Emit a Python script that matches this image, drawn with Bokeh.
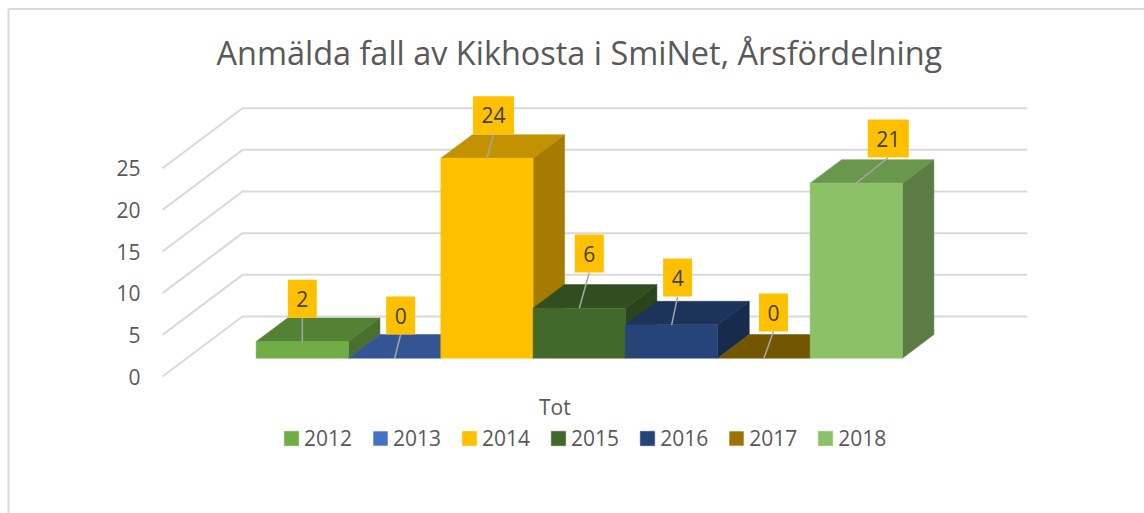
from bokeh.plotting import figure
from bokeh.models import Range1d, FixedTicker, Legend, LegendItem
from bokeh.core.properties import value
from bokeh.embed import file_html
from bokeh.resources import INLINE

title = "Anmälda fall av Kikhosta i SmiNet, Årsfördelning"
category = "Tot"
years = ["2012", "2013", "2014", "2015", "2016", "2017", "2018"]
counts = [2, 0, 24, 6, 4, 0, 21]
y_ticks = [0, 5, 10, 15, 20, 25]
front_colors = ["#70AD47", "#4472C4", "#FFC000", "#43682B", "#264478", "#9E7100", "#8CC168"]
top_colors = ["#548235", "#335593", "#C29200", "#324D20", "#1C335A", "#735600", "#69984D"]
side_colors = ["#4A702F", "#2B4A80", "#A67C00", "#2B441C", "#172B4D", "#5F4700", "#5B7C43"]

# label box offsets (screen px) from the top-front centre of each bar
label_dx = [0, 6, 6.5, 10, 6, 9.5, 32]
label_dy = [23.7, 23.7, 24, 35.7, 28.3, 26.7, 25.7]

# geometry: the plot frame fills the page, one data scale per direction
W, H = 1144, 513
PX_PER_BAR = 92.33
PX_PER_UNIT = 8.333
FLOOR_CX, FLOOR_Y = 554.4, 376          # front-plane centre of the floor / value 0
WALL_DX, WALL_DY = 80, 60               # oblique offset to the back wall, px
BAR_D0, BAR_D1 = 0.305, 0.698           # bar depth slab, fraction of floor depth
FLOOR_HALF = 392.4                      # half length of gridlines, px


def dx(px):
    return (px - FLOOR_CX) / PX_PER_BAR


def dy(px):
    return (FLOOR_Y - px) / PX_PER_UNIT


def proj(u, v, d):
    """category-axis position u (bar units), value v, depth d -> data coordinates"""
    return u + d * WALL_DX / PX_PER_BAR, v + d * WALL_DY / PX_PER_UNIT


p = figure(width=W, height=H, x_range=Range1d(dx(0), dx(W)), y_range=Range1d(dy(H), dy(0)),
           output_backend="svg", toolbar_location=None,
           min_border=0, outline_line_color=None,
           background_fill_color="white", border_fill_color="white")
p.grid.visible = False

for ax in (p.yaxis[0], p.xaxis[0]):
    ax.axis_line_color = None
    ax.major_tick_line_color = None
    ax.minor_tick_line_color = None
    ax.major_tick_out = 0
    ax.major_label_standoff = 0
    ax.major_label_text_font = "Open Sans"
    ax.major_label_text_color = "#595959"
p.yaxis[0].ticker = FixedTicker(ticks=y_ticks)
p.yaxis[0].fixed_location = dx(140)
p.yaxis[0].major_label_text_font_size = "21px"
p.xaxis[0].ticker = FixedTicker(ticks=[0])
p.xaxis[0].fixed_location = dy(392.5)
p.xaxis[0].major_label_overrides = {0: category}
p.xaxis[0].major_label_text_font_size = "21px"

# chart-area border: left and top only
p.segment([dx(8), dx(8)], [dy(8.5), dy(8.5)], [dx(8), dx(W)], [dy(H), dy(8.5)],
          line_color="#D9D9D9", line_width=2)

# title
p.text([dx(216)], [dy(52)], text=[title], text_font=value("Open Sans"), text_font_size="32.45px",
       text_color="#595959", text_align="left", text_baseline="alphabetic")

# gridlines: front edge up the side wall, then along the back wall
half = FLOOR_HALF / PX_PER_BAR
grid_x, grid_y = [], []
for t in y_ticks:
    a = proj(-half, t, 0)
    b = proj(-half, t, 1)
    c = proj(half, t, 1)
    grid_x.append([a[0], b[0], c[0]])
    grid_y.append([a[1], b[1], c[1]])
p.multi_line(grid_x, grid_y, line_color="#D9D9D9", line_width=2)

# bars
front_renderers = []
n = len(counts)
for i, (v, fc, tc, sc) in enumerate(zip(counts, front_colors, top_colors, side_colors)):
    u0 = i - n / 2
    u1 = u0 + 1
    faces = {
        "side": ([proj(u1, 0, BAR_D0), proj(u1, 0, BAR_D1), proj(u1, v, BAR_D1), proj(u1, v, BAR_D0)], sc),
        "top": ([proj(u0, v, BAR_D0), proj(u0, v, BAR_D1), proj(u1, v, BAR_D1), proj(u1, v, BAR_D0)], tc),
        "front": ([proj(u0, 0, BAR_D0), proj(u1, 0, BAR_D0), proj(u1, v, BAR_D0), proj(u0, v, BAR_D0)], fc),
    }
    for name, (pts, col) in faces.items():
        if name == "side" and v == 0:
            continue
        line = col if (name != "front" or v > 0) else None
        r = p.patch([q[0] for q in pts], [q[1] for q in pts], fill_color=col,
                    line_color=line, line_width=0.5)
        if name == "front":
            front_renderers.append(r)

# data labels with leader lines
cx = [i - n / 2 + 0.5 for i in range(n)]
anchor = [proj(c, v, BAR_D0) for c, v in zip(cx, counts)]
lab_x = [a[0] + ox / PX_PER_BAR for a, ox in zip(anchor, label_dx)]
lab_bottom = [a[1] + oy / PX_PER_UNIT for a, oy in zip(anchor, label_dy)]
p.segment([a[0] for a in anchor], [a[1] for a in anchor], lab_x, lab_bottom,
          line_color="#A6A6A6", line_width=1.5)
texts = [str(v) for v in counts]
box_w = [41 if len(t) > 1 else 29 for t in texts]
lab_mid = [b + 19 / PX_PER_UNIT for b in lab_bottom]
p.rect(lab_x, lab_mid, width=box_w, height=38, width_units="screen", height_units="screen",
       fill_color="#FFC000", line_color=None)
p.text(lab_x, lab_mid, text=texts, text_font=value("Open Sans"), text_font_size="21px",
       text_color="#404040", text_align="center", text_baseline="middle")

# legend
legend = Legend(items=[LegendItem(label=y, renderers=[r]) for y, r in zip(years, front_renderers)],
                orientation="horizontal", location=(282, 61.5),
                border_line_color=None, background_fill_color=None, background_fill_alpha=0,
                glyph_width=18, glyph_height=18, label_standoff=4, spacing=19,
                label_text_font="Open Sans", label_text_font_size="21px", label_text_color="#595959",
                margin=0, padding=0)
p.add_layout(legend, "center")

open("out.html", "w").write(file_html(p, INLINE))
